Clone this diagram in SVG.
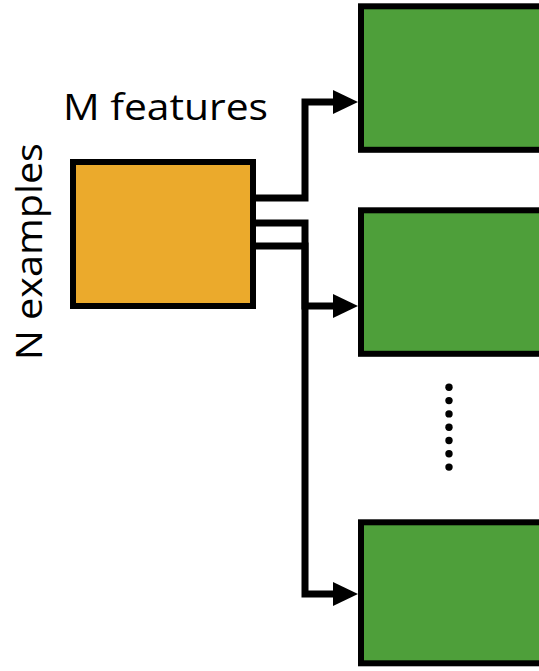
<svg xmlns="http://www.w3.org/2000/svg" width="539" height="671" viewBox="0 0 539 671">
  <style>
    .label { font-family: "Open Sans", "Liberation Sans", sans-serif; font-size: 37px; fill: #000; }
    .data { fill: #EBAA2C; stroke: #000; stroke-width: 6; }
    .model { fill: #4E9F3A; stroke: #000; stroke-width: 6; }
    .wire { fill: none; stroke: #000; stroke-width: 7; stroke-linejoin: miter; marker-end: url(#head); }
  </style>
  <defs>
    <marker id="head" markerUnits="userSpaceOnUse" markerWidth="25" markerHeight="24" refX="0" refY="12" orient="auto" overflow="visible">
      <path d="M0,0 L25,12 L0,24 Z" fill="#000"/>
    </marker>
  </defs>

  <!-- input data matrix -->
  <g id="data">
    <rect class="data" x="73" y="162" width="180" height="144"/>
    <text class="label" x="63" y="120" textLength="205" lengthAdjust="spacingAndGlyphs">M features</text>
    <text class="label" transform="translate(42,360) rotate(-90)" x="0" y="0" textLength="217" lengthAdjust="spacingAndGlyphs">N examples</text>
  </g>

  <!-- connectors -->
  <g id="connectors">
    <path class="wire" d="M253,198 H305 V102 H333"/>
    <path class="wire" d="M253,223 H305 V306 H333"/>
    <path class="wire" d="M253,246 H305 V594 H333"/>
  </g>

  <!-- output boxes -->
  <g id="model-1">
    <rect class="model" x="361" y="6.3" width="200" height="143.5"/>
  </g>
  <g id="model-2">
    <rect class="model" x="361" y="210.3" width="200" height="143.5"/>
  </g>
  <g id="ellipsis">
    <circle cx="449" cy="387.3" r="3.7"/>
    <circle cx="449" cy="400.6" r="3.7"/>
    <circle cx="449" cy="413.9" r="3.7"/>
    <circle cx="449" cy="427.2" r="3.7"/>
    <circle cx="449" cy="440.5" r="3.7"/>
    <circle cx="449" cy="453.8" r="3.7"/>
    <circle cx="449" cy="467.1" r="3.7"/>
  </g>
  <g id="model-3">
    <rect class="model" x="361" y="522.3" width="200" height="141"/>
  </g>
</svg>
